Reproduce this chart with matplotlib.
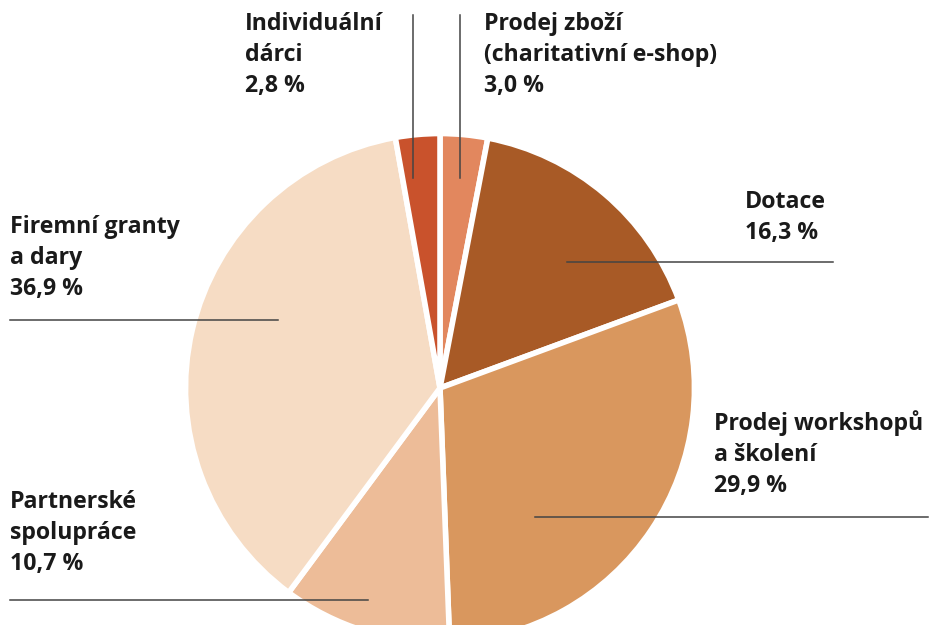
import matplotlib.pyplot as plt
from matplotlib.lines import Line2D

labels = ["Prodej zboží\n(charitativní e-shop)", "Dotace", "Prodej workshopů\na školení",
          "Partnerské\nspolupráce", "Firemní granty\na dary", "Individuální\ndárci"]
shares = [3.0, 16.3, 29.9, 10.7, 36.9, 2.8]
colors = ["#E2875E", "#A85A26", "#D9975E", "#EDBC98", "#F6DCC4", "#C9522C"]

W, H = 930, 625
fig = plt.figure(figsize=(9.3, 6.25), dpi=100)

# pie centre / radius in pixels
cx, cy, r = 440, 388, 257
ax = fig.add_axes([(cx - r) / W, (H - cy - r) / H, 2 * r / W, 2 * r / H])
ax.pie(shares, colors=colors, startangle=90, counterclock=False, radius=1,
       wedgeprops=dict(edgecolor="white", linewidth=4))
ax.set_xlim(-1.01, 1.01)
ax.set_ylim(-1.01, 1.01)
ax.set_aspect("equal")
ax.axis("off")

def fx(x):
    return x / W

def fy(y):
    return 1 - y / H

# label text positions (left x, top y) and leader lines in pixels
text_pos = [(484, 12), (745, 190), (714, 410), (10, 490), (10, 215), (245, 12)]
lines = [((460, 460), (15, 178)), ((567, 833), (262, 262)), ((535, 928), (517, 517)),
         ((10, 368), (600, 600)), ((10, 278), (320, 320)), ((413, 413), (15, 178))]

for lab, v, (tx, ty), (lx, ly) in zip(labels, shares, text_pos, lines):
    txt = lab + "\n" + f"{v:.1f}".replace(".", ",") + " %"
    fig.text(fx(tx), fy(ty), txt, ha="left", va="top", fontsize=16.7,
             fontweight="bold", family="Open Sans", color="#1a1a1a", linespacing=1.4)
    fig.add_artist(Line2D([fx(lx[0]), fx(lx[1])], [fy(ly[0]), fy(ly[1])],
                          transform=fig.transFigure, color="#444444", lw=1.1))

plt.savefig("out.png", dpi=100)
